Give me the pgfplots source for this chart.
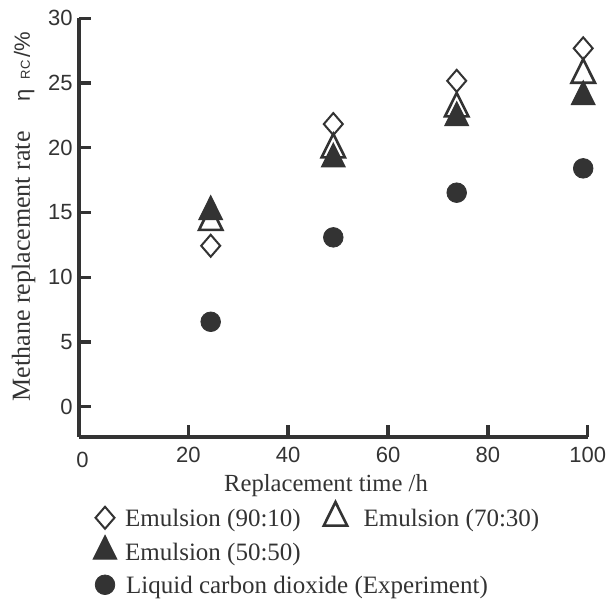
\documentclass[border=0pt]{standalone}
\usepackage{fontspec}
\setmainfont{Liberation Serif}
\newfontfamily\sansfont{Liberation Sans}
\usepackage{pgfplots}
\pgfplotsset{compat=1.18}
\definecolor{dk}{RGB}{51,51,51}

\begin{document}
\begin{tikzpicture}
\useasboundingbox (0,0) rectangle (305pt,299.5pt);
\begin{axis}[
  at={(39.75pt,81pt)}, anchor=south west,
  scale only axis, width=254.1pt, height=209.35pt,
  clip=false,
  xmin=-1.8, xmax=100, ymin=-2.34, ymax=30,
  axis x line=bottom, axis y line=left,
  axis line style={-, draw=dk, line width=2pt},
  tick align=inside,
  major tick length=5.8pt,
  tick style={draw=dk, line width=1.7pt},
  xtick={20,40,60,80,100},
  ytick={0,5,...,30},
  minor tick num=0,
  extra x ticks={-1.2},
  extra x tick labels={0},
  extra x tick style={major tick length=0pt, xticklabel style={yshift=-2.4pt}},
  /pgf/number format/assume math mode=true,
  ticklabel style={font=\sansfont\fontsize{11}{13}\selectfont, text=dk, inner sep=0pt},
  xticklabel style={anchor=north, yshift=-5pt},
  yticklabel style={anchor=east, xshift=-3.25pt},
  xlabel={Replacement time /h},
  xlabel style={at={(axis description cs:0.485,-0.117)}, anchor=center,
    inner sep=0pt, font=\fontsize{12.3}{15}\selectfont, text=dk},
  ylabel={Methane replacement rate\hspace{15pt}{\sansfont\fontsize{11}{13}\selectfont η\hspace{5pt}{\fontsize{6.5}{8}\selectfont RC}\hspace{1.5pt}/\%}},
  ylabel style={at={(axis description cs:-0.110,0.5266)}, anchor=center,
    inner sep=0pt, font=\fontsize{13}{15}\selectfont, text=dk},
  legend columns=2,
  legend cell align=left,
  legend image code/.code={\draw[#1] plot coordinates {(0pt,0pt)};},
  legend style={at={(axis description cs:0.0272,-0.1529)}, anchor=north west,
    draw=none, fill=none, inner sep=0pt, outer sep=0pt, row sep=0pt,
    font=\fontsize{12.5}{15}\selectfont, text=dk,
    nodes={inner sep=0pt, text height=12.875pt, text depth=3.875pt},
    /tikz/every odd column/.append style={column sep=4.2pt},
    /tikz/every even column/.append style={column sep=11.5pt}},
]
\addplot[only marks, mark=diamond, mark size=5.5pt,
  mark options={draw=dk, fill=white, line width=1pt, xscale=1.15}]
  coordinates {(24.48,12.43) (49.04,21.83) (73.76,25.17) (99.1,27.68)};
\addlegendentry{Emulsion (90:10)}
\addplot[only marks, mark=triangle, mark size=6.75pt,
  mark options={draw=dk, fill=white, line width=1.3pt, yscale=1.16}]
  coordinates {(24.48,14.26) (49.04,19.86) (73.76,23.03) (99.1,25.63)};
\addlegendentry{\hspace{4pt}Emulsion (70:30)}
\addplot[only marks, mark=triangle*, mark size=6.75pt,
  mark options={draw=dk, fill=dk, line width=0.6pt, yscale=1.16}]
  coordinates {(24.48,15.07) (49.04,19.14) (73.76,22.33) (99.1,23.95)};
\addlegendentry{Emulsion (50:50)}
\addlegendimage{empty legend}
\addlegendentry{}
\addplot[only marks, mark=*, mark size=4.9pt,
  mark options={draw=dk, fill=dk}]
  coordinates {(24.48,6.56) (49.04,13.08) (73.76,16.53) (99.1,18.41)};
\addlegendentry{\makebox[0pt][l]{Liquid carbon dioxide (Experiment)}}
\end{axis}
\end{tikzpicture}
\end{document}
